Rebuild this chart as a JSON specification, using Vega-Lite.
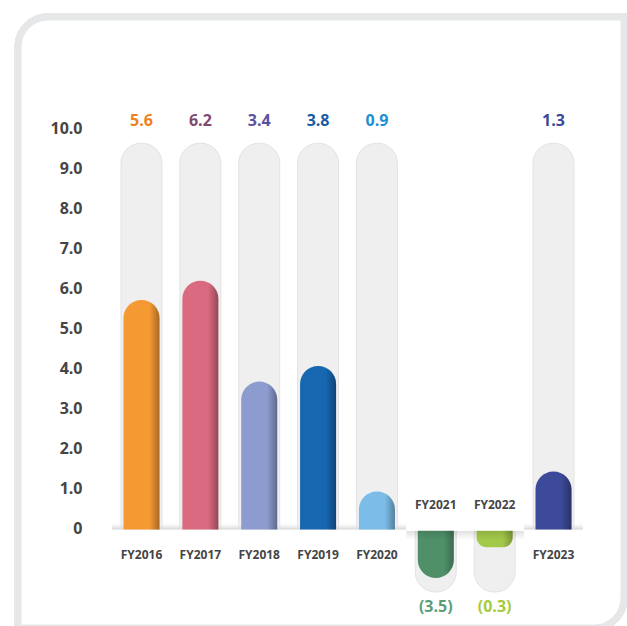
{
  "$schema": "https://vega.github.io/schema/vega-lite/v6.json",
  "width": 606,
  "height": 611,
  "autosize": "none",
  "padding": {"left": 18, "top": 17, "right": 3, "bottom": 0},
  "background": "white",
  "config": {"view": {"stroke": null}},
  "data": {"values": [
    {"year": "FY2016", "value": 5.6, "bar": 5.7, "cap_lo": 0, "cap_hi": 9.62, "lab_y": -0.68},
    {"year": "FY2017", "value": 6.2, "bar": 6.18, "cap_lo": 0, "cap_hi": 9.62, "lab_y": -0.68},
    {"year": "FY2018", "value": 3.4, "bar": 3.66, "cap_lo": 0, "cap_hi": 9.62, "lab_y": -0.68},
    {"year": "FY2019", "value": 3.8, "bar": 4.05, "cap_lo": 0, "cap_hi": 9.62, "lab_y": -0.68},
    {"year": "FY2020", "value": 0.9, "bar": 0.91, "cap_lo": 0, "cap_hi": 9.62, "lab_y": -0.68},
    {"year": "FY2021", "value": -3.5, "bar": -1.25, "cap_lo": -1.6, "cap_hi": 0, "lab_y": 0.57},
    {"year": "FY2022", "value": -0.3, "bar": -0.48, "cap_lo": -1.6, "cap_hi": 0, "lab_y": 0.57},
    {"year": "FY2023", "value": 1.3, "bar": 1.41, "cap_lo": 0, "cap_hi": 9.62, "lab_y": -0.68}
  ]},
  "layer": [
    {
      "mark": {"type": "rect", "fill": "white", "stroke": "#e6e7e8", "strokeWidth": 7,
        "cornerRadiusTopLeft": 30, "cornerRadiusBottomRight": 30},
      "encoding": {
        "x": {"value": 0}, "x2": {"value": "width"},
        "y": {"value": 0}, "y2": {"value": "height"}
      }
    },
    {
      "transform": [{"filter": "datum.bar > 0"}],
      "mark": {"type": "bar", "width": 41, "fill": "#efefef", "stroke": "#e3e3e3", "strokeWidth": 1,
        "cornerRadiusTopLeft": 20, "cornerRadiusTopRight": 20},
      "encoding": {
        "x": {"field": "year", "type": "nominal", "sort": null, "axis": null,
          "scale": {"domain": ["FY2016","FY2017","FY2018","FY2019","FY2020","FY2021","FY2022","FY2023"], "paddingInner": 0, "paddingOuter": 0, "range": [94.07, 564.93]}},
        "y": {"field": "cap_hi", "type": "quantitative",
          "scale": {"domain": [-2.5, 12.775], "nice": false, "zero": false},
          "axis": {"values": [0,1,2,3,4,5,6,7,8,9,10], "labelExpr": "datum.value == 0 ? '0' : format(datum.value, '.1f')",
            "domain": false, "ticks": false, "grid": false, "title": null, "offset": -67, "labelPadding": 3, "zindex": 1,
            "labelFont": "Open Sans", "labelFontWeight": 700, "labelFontSize": 16, "labelColor": "#454545"}},
        "y2": {"field": "cap_lo"}
      }
    },
    {
      "transform": [{"filter": "datum.bar < 0"}],
      "mark": {"type": "bar", "width": 41, "fill": "#efefef", "stroke": "#e3e3e3", "strokeWidth": 1,
        "cornerRadiusBottomLeft": 20, "cornerRadiusBottomRight": 20},
      "encoding": {
        "x": {"field": "year", "type": "nominal", "sort": null},
        "y": {"field": "cap_hi", "type": "quantitative"},
        "y2": {"field": "cap_lo"}
      }
    },
    {
      "transform": [{"filter": "datum.bar > 0"}],
      "mark": {"type": "rect",
        "fill": {"gradient": "linear", "x1": 0, "y1": 0, "x2": 0, "y2": 1,
          "stops": [{"offset": 0, "color": "rgba(255,255,255,0)"}, {"offset": 1, "color": "#d4d4d4"}]}},
      "encoding": {
        "x": {"field": "year", "type": "nominal", "sort": null},
        "y": {"datum": 0.16, "type": "quantitative"}, "y2": {"datum": -0.04}
      }
    },
    {
      "transform": [{"filter": "datum.bar > 0"}],
      "mark": {"type": "bar", "width": 36, "cornerRadiusTopLeft": 18, "cornerRadiusTopRight": 18},
      "encoding": {
        "x": {"field": "year", "type": "nominal", "sort": null},
        "y": {"field": "bar", "type": "quantitative"},
        "y2": {"datum": -0.04},
        "color": {"field": "year", "type": "nominal", "legend": null,
          "scale": {"domain": ["FY2016","FY2017","FY2018","FY2019","FY2020","FY2021","FY2022","FY2023"],
            "range": ["#f59a33","#d96a80","#8c9ccf","#1666b0","#7bbde8","#4f9069","#a3c94a","#3c4a99"]}}
      }
    },
    {
      "transform": [{"filter": "datum.bar < 0"}],
      "mark": {"type": "bar", "width": 36, "cornerRadiusBottomLeft": 18, "cornerRadiusBottomRight": 18},
      "encoding": {
        "x": {"field": "year", "type": "nominal", "sort": null},
        "y": {"field": "bar", "type": "quantitative"},
        "y2": {"datum": 0},
        "color": {"field": "year", "type": "nominal", "legend": null}
      }
    },
    {
      "transform": [{"filter": "datum.bar > 0"}],
      "mark": {"type": "bar", "width": 36, "cornerRadiusTopLeft": 18, "cornerRadiusTopRight": 18,
        "fill": {"gradient": "linear", "x1": 0, "y1": 0, "x2": 1, "y2": 0,
          "stops": [{"offset": 0, "color": "rgba(0,0,0,0)"}, {"offset": 0.72, "color": "rgba(0,0,0,0)"}, {"offset": 1, "color": "rgba(0,0,0,0.32)"}]}},
      "encoding": {
        "x": {"field": "year", "type": "nominal", "sort": null},
        "y": {"field": "bar", "type": "quantitative"},
        "y2": {"datum": -0.04}
      }
    },
    {
      "transform": [{"filter": "datum.bar < 0"}],
      "mark": {"type": "bar", "width": 36, "cornerRadiusBottomLeft": 18, "cornerRadiusBottomRight": 18,
        "fill": {"gradient": "linear", "x1": 0, "y1": 0, "x2": 1, "y2": 0,
          "stops": [{"offset": 0, "color": "rgba(0,0,0,0)"}, {"offset": 0.72, "color": "rgba(0,0,0,0)"}, {"offset": 1, "color": "rgba(0,0,0,0.25)"}]}},
      "encoding": {
        "x": {"field": "year", "type": "nominal", "sort": null},
        "y": {"field": "bar", "type": "quantitative"},
        "y2": {"datum": 0}
      }
    },
    {
      "transform": [{"filter": "datum.bar < 0"}],
      "mark": {"type": "rect",
        "fill": {"gradient": "linear", "x1": 0, "y1": 0, "x2": 0, "y2": 1,
          "stops": [{"offset": 0, "color": "rgba(0,0,0,0.12)"}, {"offset": 1, "color": "rgba(0,0,0,0)"}]}},
      "encoding": {
        "x": {"field": "year", "type": "nominal", "sort": null},
        "y": {"datum": -0.07, "type": "quantitative"}, "y2": {"datum": -0.3}
      }
    },
    {
      "transform": [{"filter": "datum.bar < 0"}],
      "mark": {"type": "rect", "fill": "white"},
      "encoding": {
        "x": {"field": "year", "type": "nominal", "sort": null},
        "y": {"datum": -0.07, "type": "quantitative"}, "y2": {"datum": 1.6}
      }
    },
    {
      "transform": [{"filter": "datum.bar > 0"}],
      "mark": {"type": "text", "font": "Open Sans", "fontWeight": 700, "fontSize": 16, "baseline": "middle"},
      "encoding": {
        "x": {"field": "year", "type": "nominal", "sort": null},
        "y": {"datum": 10.18, "type": "quantitative"},
        "text": {"field": "value", "type": "quantitative", "format": "(.1f"},
        "fill": {"field": "year", "type": "nominal", "legend": null,
          "scale": {"domain": ["FY2016","FY2017","FY2018","FY2019","FY2020","FY2021","FY2022","FY2023"],
            "range": ["#ef7f22","#7e4a70","#5a52a3","#1b5ba5","#1b8fd3","#5b9e7a","#a5cb3b","#3a4a9a"]}}
      }
    },
    {
      "transform": [{"filter": "datum.bar < 0"}],
      "mark": {"type": "text", "font": "Open Sans", "fontWeight": 700, "fontSize": 16, "baseline": "middle"},
      "encoding": {
        "x": {"field": "year", "type": "nominal", "sort": null},
        "y": {"datum": -1.98, "type": "quantitative"},
        "text": {"field": "value", "type": "quantitative", "format": "(.1f"},
        "fill": {"field": "year", "type": "nominal", "legend": null}
      }
    },
    {
      "mark": {"type": "text", "font": "Open Sans", "fontWeight": 700, "fontSize": 12, "baseline": "middle", "fill": "#454545"},
      "encoding": {
        "x": {"field": "year", "type": "nominal", "sort": null},
        "y": {"field": "lab_y", "type": "quantitative"},
        "text": {"field": "year", "type": "nominal"}
      }
    }
  ]
}
